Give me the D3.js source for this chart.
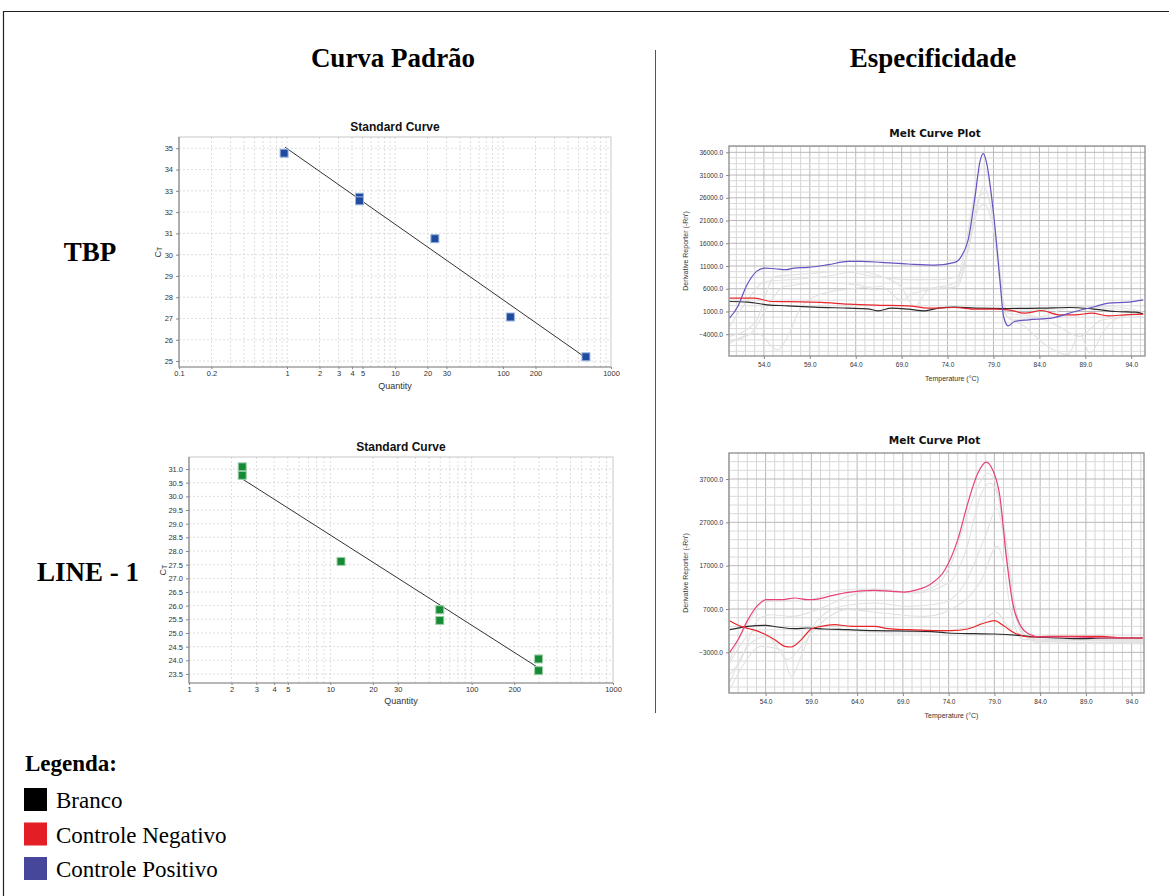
<!DOCTYPE html>
<html><head><meta charset="utf-8">
<script src="https://cdn.jsdelivr.net/npm/d3@7"></script>
<style>body{margin:0;background:#fff}svg{display:block}</style>
</head><body>
<svg id="c" width="1169" height="896"></svg>
<script>
// ---------- DATA ----------
const headerTitles = ["Curva Padrão", "Especificidade"];
const rowLabels = ["TBP", "LINE - 1"];
const legendTitle = "Legenda:";
const legendItems = ["Branco", "Controle Negativo", "Controle Positivo"];
const legendColors = ["#000000", "#e31e24", "#46469a"];

// Standard curve TBP
const tbpQuantity = [0.94, 4.69, 4.69, 23.4, 117, 586];
const tbpCt = [34.77, 32.70, 32.53, 30.75, 27.07, 25.20];
const tbpFit = [[0.96, 35.05], [586, 25.15]];
const tbpYTicks = [25, 26, 27, 28, 29, 30, 31, 32, 33, 34, 35];
const tbpXLabels = [0.1, 0.2, 1, 2, 3, 4, 5, 10, 20, 30, 100, 200, 1000];

// Standard curve LINE-1
const line1Quantity = [2.38, 2.38, 11.9, 59.5, 59.5, 297.5, 297.5];
const line1Ct = [31.08, 30.77, 27.62, 25.85, 25.46, 24.05, 23.62];
const line1Fit = [[2.38, 30.64], [298, 23.72]];
const line1YTicks = [23.5, 24.0, 24.5, 25.0, 25.5, 26.0, 26.5, 27.0, 27.5, 28.0, 28.5, 29.0, 29.5, 30.0, 30.5, 31.0];
const line1XLabels = [1, 2, 3, 4, 5, 10, 20, 30, 100, 200, 1000];

// Melt curves, TBP (top)
const meltTicksX = [54, 59, 64, 69, 74, 79, 84, 89, 94];
const meltTbpYTicks = [-4000, 1000, 6000, 11000, 16000, 21000, 26000, 31000, 36000];
const meltTbpPositive = [[50.25,-470],[51.16,2100],[52.07,6510],[53.2,9820],[54.07,10555],[55.2,10400],[56.4,10190],[57.3,10555],[58.8,10700],[61,11290],[63.2,12025],[64.6,12025],[66.8,11800],[69.7,11440],[72.6,11200],[74.8,11800],[75.5,13130],[76.25,16800],[77,26360],[77.5,33700],[77.9,35700],[78.25,33700],[79,22700],[79.7,8000],[80.1,-100],[80.6,-2160],[81.3,-1200],[82.8,-840],[85.3,-470],[87.9,1000],[90.1,2100],[91.5,2840],[93.7,3060],[95.3,3570]];
const meltTbpNegative = [[50.25,3940],[53,3940],[54.8,3200],[58.1,3130],[60.25,2985],[63.2,2620],[66.1,2400],[69.7,2250],[71.9,1735],[74.8,1880],[77,1515],[79.2,1515],[80.6,1370],[82.4,630],[84.25,1220],[86.1,265],[87.9,265],[89.7,630],[91.5,45],[93.3,265],[95.3,410]];
const meltTbpBlank = [[50.25,3200],[52.25,3060],[54.4,2470],[56.6,2250],[59.5,1955],[63.2,1735],[65.3,1590],[66.4,1150],[67.9,1735],[69.7,1515],[71.5,1150],[73,1735],[74.8,1955],[77,1735],[80.6,1660],[84.25,1735],[87.2,1880],[89.7,1590],[92.3,1000],[94.5,850],[95.3,410]];
const meltTbpSample1 = [[50.25,-4500],[53,-1570],[55.2,8700],[58.8,9300],[62.5,9800],[66.1,8700],[69.7,8000],[73.3,8000],[75.1,8700],[76.2,18270],[77.3,30770],[77.9,33000],[78.6,28560],[79.3,15330],[80.1,1370],[81,-840],[84.3,-100],[87.9,2100],[91.5,2100],[95.3,1000]];
const meltTbpSample2 = [[50.25,-5600],[52.6,-3800],[54.4,2100],[56.2,6500],[60.6,7250],[64.2,6900],[66.1,5800],[69.7,6150],[74.4,6150],[75.5,8700],[76.6,19000],[77.5,26400],[78.2,27100],[79,21200],[79.7,10200],[80.2,630],[82.4,-2300],[84.9,-6700],[87.1,-8550],[88.4,-3780],[89.5,-8200],[91.1,-3000],[92.9,-100],[95.3,630]];
const meltTbpSample3 = [[50.25,-5980],[53.3,-3780],[55.5,-7450],[56.6,-4500],[58.1,2100],[60.6,5040],[64.2,6150],[66.8,6500],[68.9,3570],[70.4,5040],[73.3,6150],[75.1,6500],[76.2,13860],[77.3,23400],[78,24500],[79,19000],[79.9,5040],[80.6,630],[83.5,-100],[86.1,-2300],[88.4,-4500],[90.8,-840],[95.3,-100]];
const meltTbpSample4 = [[50.25,-2300],[52.25,3570],[54.07,7600],[57,8000],[60.6,8700],[64.2,9800],[66.8,8700],[68.9,6500],[70.4,2100],[71.9,5800],[74.8,7250],[75.9,12400],[77,21200],[77.9,28560],[78.6,24900],[79.5,12400],[80.2,1370],[84.3,1370],[87.9,2100],[95.3,780]];

// Melt curves, LINE-1 (bottom)
const meltLineYTicks = [-3000, 7000, 17000, 27000, 37000];
const meltLinePositive = [[50.07,-3000],[50.98,-75],[52.07,4540],[53.2,8000],[54.07,9150],[55.7,9150],[57.2,9540],[58.6,9150],[59.7,9300],[61.2,10080],[63,10850],[65.9,11300],[67.7,11080],[69.2,10920],[70.6,11460],[72.1,12840],[73.6,16070],[75,23000],[76.1,31450],[77.2,38380],[78.1,40900],[78.8,39150],[79.6,33000],[80.3,19150],[81,8380],[81.9,3000],[82.7,1300],[84.1,540],[87.8,540],[91.4,310],[95.2,310]];
const meltLineNegative = [[50.07,4310],[51.3,3000],[53.2,1850],[55,-75],[56.1,-1610],[56.8,-1770],[57.9,-75],[59,2390],[60.1,3000],[61.5,3380],[63.4,3000],[65.9,3000],[67.4,2460],[69.6,2230],[71.7,2080],[74.3,2000],[76.1,2390],[77.9,3770],[79,4310],[80.1,3000],[81.2,1460],[83,540],[85.2,690],[87.8,690],[90.7,690],[92.9,310],[95.2,310]];
const meltLineBlank = [[50.07,2230],[52.07,3000],[54,3230],[55.3,2850],[57.2,2460],[58.6,2620],[60.4,2390],[63,2230],[65.9,2000],[69.6,1920],[71.7,1850],[73.9,1460],[76.8,1300],[79,1230],[81.6,920],[83.4,540],[86,310],[87.8,160],[91.4,310],[95.2,310]];
const meltLineSample1 = [[50.07,-4690],[52.07,3770],[53.9,8770],[58.6,9000],[62.3,11460],[65.9,11600],[69.6,10700],[72.5,12230],[74.3,17600],[76.1,29150],[77.6,36840],[78.3,38380],[79,36840],[79.9,26840],[80.9,11460],[82.3,700],[84.1,-460],[87.8,-230],[95.2,-460]];
const meltLineSample2 = [[50.07,-8150],[51.3,-4690],[53.2,4540],[54.6,5690],[56.8,5300],[59.7,6850],[63,9920],[66.7,11600],[70.3,10700],[74,13000],[75.8,19900],[77.6,33760],[78.5,36070],[79.4,33000],[80.3,23000],[81.2,8380],[82.7,310],[87.8,-690],[95.2,-690]];
const meltLineSample3 = [[50.07,-11600],[51.7,-5460],[53.5,-1610],[55.7,-2380],[56.8,-8530],[57.9,-3920],[59.4,3770],[62.3,7620],[65.9,8380],[69.6,7620],[73.3,8380],[75.8,13000],[78,23760],[79.3,30300],[80,23760],[80.9,9920],[82,1460],[84.1,-840],[95.2,-840]];
const meltLineSample4 = [[50.07,-10070],[52.4,-840],[54.2,690],[56.4,-4690],[57.9,-1610],[59.7,3000],[63,6850],[66.7,6080],[71.4,5300],[75.4,8380],[77.6,13770],[79.3,21450],[80,17600],[80.7,7620],[81.6,1460],[84.1,-75],[95.2,-230]];
const meltLineSample5 = [[50.07,-5460],[53.2,2230],[58.6,2230],[69.6,1460],[76.8,3000],[79.2,6230],[80.5,3000],[82.3,-75],[95.2,-75]];

// ---------- DRAW ----------
const svg = d3.select("#c");
const serif = "'Liberation Serif','Times New Roman',serif";
const sans = "'Liberation Sans',Arial,sans-serif";

svg.append("rect").attr("width",1169).attr("height",896).attr("fill","#fff");
// outer frame
svg.append("path").attr("d","M3.5,900 V11.5 H1175").attr("fill","none").attr("stroke","#222").attr("stroke-width",1.2);
// divider
svg.append("line").attr("x1",655.5).attr("x2",655.5).attr("y1",50).attr("y2",713).attr("stroke","#555").attr("stroke-width",1);

svg.selectAll("text.hdr").data(headerTitles).join("text").attr("class","hdr")
  .attr("x",(d,i)=>[393,933][i]).attr("y",67).attr("text-anchor","middle")
  .attr("font-family",serif).attr("font-weight","bold").attr("font-size",27).text(d=>d);

svg.selectAll("text.row").data(rowLabels).join("text").attr("class","row")
  .attr("x",(d,i)=>[90,88][i]).attr("y",(d,i)=>[261,581][i]).attr("text-anchor","middle")
  .attr("font-family",serif).attr("font-weight","bold").attr("font-size",27).text(d=>d);

// legend
svg.append("text").attr("x",25).attr("y",771).attr("font-family",serif).attr("font-weight","bold")
  .attr("font-size",23).text(legendTitle);
const lg = svg.selectAll("g.lg").data(legendItems).join("g").attr("class","lg")
  .attr("transform",(d,i)=>`translate(24,${788+i*34.5})`);
lg.append("rect").attr("width",23).attr("height",23).attr("fill",(d,i)=>legendColors[i]);
lg.append("text").attr("x",32).attr("y",20).attr("font-family",serif).attr("font-size",23).text(d=>d);

function fmtQ(v){ return v<1 ? String(v) : d3.format("d")(v); }

function stdCurve(o){
  const g = svg.append("g");
  const x = d3.scaleLog().domain(o.xDomain).range([o.x0,o.x1]);
  const y = d3.scaleLinear().domain(o.yDomain).range([o.y1,o.y0]);
  g.append("text").attr("x",(o.x0+o.x1)/2).attr("y",o.y0-6).attr("text-anchor","middle")
    .attr("font-family",sans).attr("font-weight","bold").attr("font-size",12).attr("fill","#111").text("Standard Curve");
  // grid
  const vgrid = [];
  for(let p=Math.floor(Math.log10(o.xDomain[0])); p<Math.log10(o.xDomain[1]); p++)
    for(let k=1;k<=9;k++){ const v=k*Math.pow(10,p); if(v>o.xDomain[0]*1.001 && v<o.xDomain[1]*0.999) vgrid.push(v); }
  g.selectAll("line.vg").data(vgrid).join("line").attr("x1",d=>x(d)).attr("x2",d=>x(d))
    .attr("y1",o.y0).attr("y2",o.y1).attr("stroke","#d4d4d4").attr("stroke-dasharray","2,2").attr("stroke-width",0.8);
  g.selectAll("line.hg").data(o.yTicks).join("line").attr("x1",o.x0).attr("x2",o.x1)
    .attr("y1",d=>y(d)).attr("y2",d=>y(d)).attr("stroke","#d4d4d4").attr("stroke-dasharray","2,2").attr("stroke-width",0.8);
  // frame
  g.append("rect").attr("x",o.x0).attr("y",o.y0).attr("width",o.x1-o.x0).attr("height",o.y1-o.y0)
    .attr("fill","none").attr("stroke","#c8c8c8").attr("stroke-width",1);
  g.append("path").attr("d",`M${o.x0},${o.y0}V${o.y1}H${o.x1}`).attr("fill","none").attr("stroke","#8a8a8a").attr("stroke-width",1.2);
  // axes labels
  const ya = d3.axisLeft(y).tickValues(o.yTicks).tickFormat(o.yFmt).tickSize(3).tickPadding(3);
  const ay = g.append("g").attr("transform",`translate(${o.x0},0)`).call(ya);
  const xa = d3.axisBottom(x).tickValues(o.xLabels).tickFormat(fmtQ).tickSize(2).tickPadding(2);
  const ax = g.append("g").attr("transform",`translate(0,${o.y1})`).call(xa);
  [ay,ax].forEach(a=>{ a.select(".domain").remove(); a.selectAll("line").attr("stroke","#888");
    a.selectAll("text").attr("font-family",sans).attr("font-size",7.5).attr("fill","#333"); });
  const ct = g.append("text").attr("transform",`translate(${o.x0-o.ctOff},${(o.y0+o.y1)/2}) rotate(-90)`)
    .attr("text-anchor","middle").attr("font-family",sans).attr("font-size",9).attr("fill","#333");
  ct.append("tspan").text("C"); ct.append("tspan").attr("font-size",7).attr("dy",1).text("T");
  g.append("text").attr("x",(o.x0+o.x1)/2).attr("y",o.y1+o.qOff).attr("text-anchor","middle")
    .attr("font-family",sans).attr("font-size",9).attr("fill","#333").text("Quantity");
  // fit line
  g.append("path").attr("d",d3.line().x(d=>x(d[0])).y(d=>y(d[1]))(o.fit)).attr("stroke","#333").attr("stroke-width",1).attr("fill","none");
  // points
  g.selectAll("rect.pt").data(o.q).join("rect").attr("class","pt")
    .attr("x",(d)=>x(d)-4).attr("y",(d,i)=>y(o.ct[i])-4).attr("width",8).attr("height",8)
    .attr("fill",o.color).attr("stroke",o.edge).attr("stroke-width",1);
}

stdCurve({x0:179,x1:611,y0:137,y1:367,xDomain:[0.1,1000],yDomain:[24.72,35.53],yTicks:tbpYTicks,qOff:22,ctOff:18,
  yFmt:d3.format("d"),xLabels:tbpXLabels,q:tbpQuantity,ct:tbpCt,fit:tbpFit,color:"#1f4c9e",edge:"#9db6de"});
stdCurve({x0:189,x1:613,y0:457,y1:683,xDomain:[1,1000],yDomain:[23.17,31.44],yTicks:line1YTicks,qOff:21,ctOff:23,
  yFmt:d3.format(".1f"),xLabels:line1XLabels,q:line1Quantity,ct:line1Ct,fit:line1Fit,color:"#178a36",edge:"#9fd0a8"});

function meltPlot(o){
  const g = svg.append("g");
  const x = d3.scaleLinear().domain(o.xDomain).range([o.x0,o.x1]);
  const y = d3.scaleLinear().domain(o.yDomain).range([o.y1,o.y0]);
  g.append("text").attr("x",(o.x0+o.x1)/2-2).attr("y",o.y0-9).attr("text-anchor","middle")
    .attr("font-family","'DejaVu Sans',Verdana,sans-serif").attr("font-weight","bold").attr("font-size",10.5).attr("fill","#111").text("Melt Curve Plot");
  // grid
  const vx = d3.range(Math.ceil(o.xDomain[0]), o.xDomain[1], 1);
  g.selectAll("line.vg").data(vx).join("line").attr("x1",d=>x(d)).attr("x2",d=>x(d)).attr("y1",o.y0).attr("y2",o.y1)
    .attr("stroke",d=>o.xTicks.includes(d)?"#b8b8b8":"#d6d6d6").attr("stroke-width",1);
  const base = o.yTicks[0];
  const hy = [];
  for(let v=base - o.minor*Math.floor((base-o.yDomain[0])/o.minor); v<o.yDomain[1]; v+=o.minor) hy.push(v);
  g.selectAll("line.hg").data(hy).join("line").attr("x1",o.x0).attr("x2",o.x1).attr("y1",d=>y(d)).attr("y2",d=>y(d))
    .attr("stroke",d=>o.yTicks.includes(d)?"#b8b8b8":"#dadada").attr("stroke-width",1);
  // curves
  const line = d3.line().x(d=>x(d[0])).y(d=>y(d[1])).curve(d3.curveMonotoneX);
  const clipId = "clip"+o.id;
  g.append("clipPath").attr("id",clipId).append("rect").attr("x",o.x0).attr("y",o.y0).attr("width",o.x1-o.x0).attr("height",o.y1-o.y0);
  const cg = g.append("g").attr("clip-path",`url(#${clipId})`);
  o.gray.forEach(c=>cg.append("path").attr("d",line(c)).attr("fill","none").attr("stroke","#e2e2e2").attr("stroke-width",1.1));
  o.colored.forEach(c=>cg.append("path").attr("d",line(c.d)).attr("fill","none").attr("stroke",c.c).attr("stroke-width",1.2));
  // frame
  g.append("rect").attr("x",o.x0).attr("y",o.y0).attr("width",o.x1-o.x0).attr("height",o.y1-o.y0)
    .attr("fill","none").attr("stroke","#8c8c8c").attr("stroke-width",1.3);
  const ya = d3.axisLeft(y).tickValues(o.yTicks).tickFormat(d3.format(".1f")).tickSize(3);
  const ay = g.append("g").attr("transform",`translate(${o.x0},0)`).call(ya);
  const xa = d3.axisBottom(x).tickValues(o.xTicks).tickFormat(d3.format(".1f")).tickSize(3);
  const ax = g.append("g").attr("transform",`translate(0,${o.y1})`).call(xa);
  [ay,ax].forEach(a=>{ a.select(".domain").remove(); a.selectAll("line").attr("stroke","#888");
    a.selectAll("text").attr("font-family",sans).attr("font-size",6.5).attr("fill","#333"); });
  g.append("text").attr("transform",`translate(${o.x0-41},${(o.y0+o.y1)/2}) rotate(-90)`).attr("text-anchor","middle")
    .attr("font-family",sans).attr("font-size",7).attr("fill","#333").text("Derivative Reporter (-Rn')");
  g.append("text").attr("x",(o.x0+o.x1)/2+15).attr("y",o.y1+o.titleOff).attr("text-anchor","middle")
    .attr("font-family",sans).attr("font-size",7).attr("fill","#333").text("Temperature (°C)");
}

meltPlot({id:"a",x0:729,x1:1145,y0:146,y1:356,xDomain:[50.2,95.5],yDomain:[-8790,37390],
  xTicks:meltTicksX,yTicks:meltTbpYTicks,minor:1250,titleOff:25,
  gray:[meltTbpSample1,meltTbpSample2,meltTbpSample3,meltTbpSample4],
  colored:[{d:meltTbpBlank,c:"#2a2a2a"},{d:meltTbpNegative,c:"#e8262b"},{d:meltTbpPositive,c:"#6a52c0"}]});
meltPlot({id:"b",x0:729,x1:1144,y0:453,y1:693,xDomain:[50.0,95.35],yDomain:[-12380,43000],
  xTicks:meltTicksX,yTicks:meltLineYTicks,minor:2000,titleOff:25,
  gray:[meltLineSample1,meltLineSample2,meltLineSample3,meltLineSample4,meltLineSample5],
  colored:[{d:meltLineBlank,c:"#2a2a2a"},{d:meltLineNegative,c:"#e8262b"},{d:meltLinePositive,c:"#e8407a"}]});
</script>
</body></html>
